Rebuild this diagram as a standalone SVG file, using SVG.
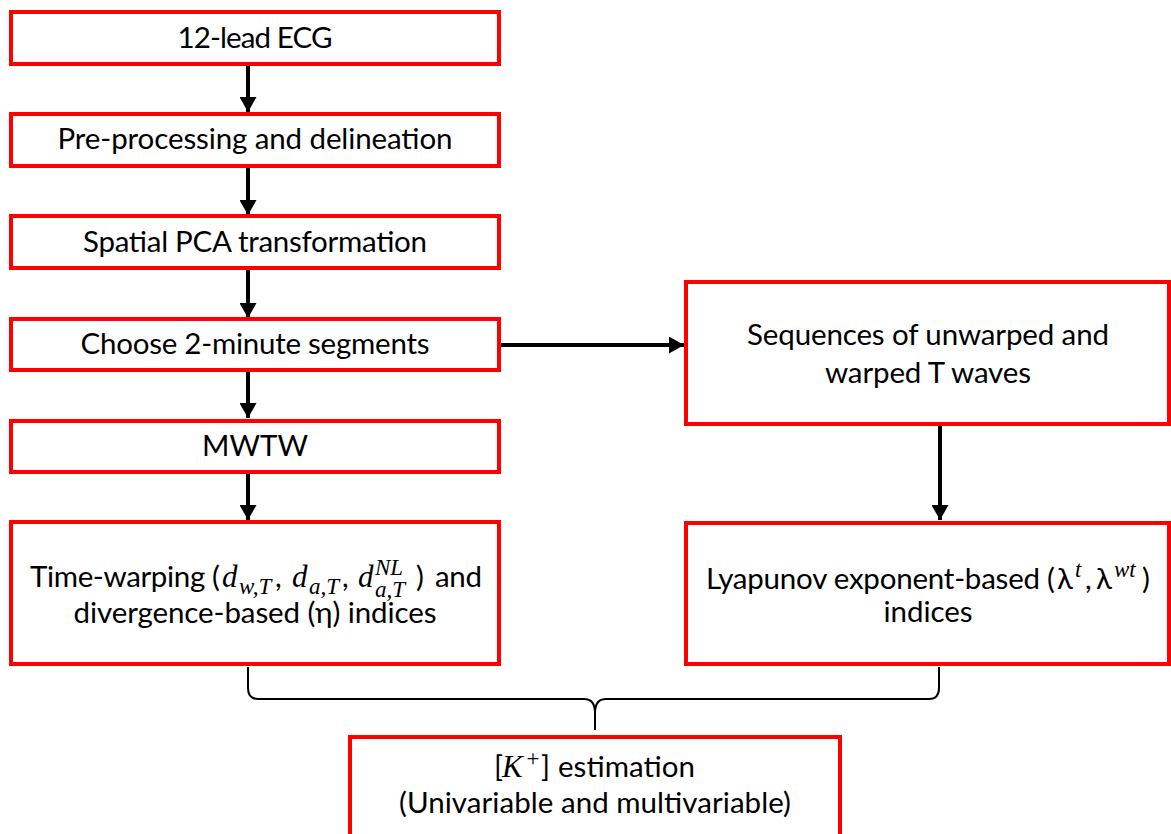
<svg xmlns="http://www.w3.org/2000/svg" width="1171" height="834" viewBox="0 0 1171 834">
<style>
.box{fill:#fff;stroke:#ff0000;stroke-width:4}
.t{font-family:Lato,"Noto Sans",sans-serif;font-size:29.5px;fill:#000}
.c{text-anchor:middle}
.m{font-family:"Liberation Serif","DejaVu Serif",serif;font-style:italic;font-size:31px}
.ms{font-family:"Liberation Serif","DejaVu Serif",serif;font-style:italic;font-size:23px}
.arr{stroke:#000;stroke-width:4;fill:none;marker-end:url(#ah)}
.brace{stroke:#000;stroke-width:2;fill:none}
</style>
<defs>
<marker id="ah" markerUnits="userSpaceOnUse" markerWidth="17" markerHeight="17" refX="15" refY="8.5" orient="auto">
<path d="M0,0 L15,8.5 L0,17 Z" fill="#000"/>
</marker>
</defs>
<rect width="1171" height="834" fill="#fff"/>
<g id="connectors">
<line class="arr" x1="248" y1="66" x2="248" y2="112"/>
<line class="arr" x1="248" y1="168" x2="248" y2="215"/>
<line class="arr" x1="248" y1="270" x2="248" y2="318"/>
<line class="arr" x1="248" y1="372" x2="248" y2="418"/>
<line class="arr" x1="248" y1="474" x2="248" y2="520"/>
<line class="arr" x1="501" y1="345" x2="684" y2="345"/>
<line class="arr" x1="940" y1="426" x2="940" y2="520"/>
<path class="brace" d="M248,667 V688 Q248,699 258,699 H584 Q595,699 595,713 V730 M595,713 Q595,699 606,699 H929 Q939,699 939,688 V667"/>
</g>
<g id="n1"><rect class="box" x="11" y="12" width="488" height="52"/><text class="t c" x="255" y="48" textLength="155">12-lead ECG</text></g>
<g id="n2"><rect class="box" x="11" y="114" width="488" height="52"/><text class="t c" x="255" y="149" textLength="395">Pre-processing and delineation</text></g>
<g id="n3"><rect class="box" x="11" y="216" width="488" height="52"/><text class="t c" x="255" y="252" textLength="344">Spatial PCA transformation</text></g>
<g id="n4"><rect class="box" x="11" y="319" width="488" height="51"/><text class="t c" x="255" y="354" textLength="349">Choose 2-minute segments</text></g>
<g id="n5"><rect class="box" x="11" y="421" width="488" height="51"/><text class="t c" x="255" y="456">MWTW</text></g>
<g id="n6"><rect class="box" x="11" y="522" width="488" height="142"/>
<text class="t" y="587"><tspan x="30" textLength="190">Time-warping (</tspan><tspan class="m" x="222">d</tspan><tspan class="ms" x="239" y="594">w,T</tspan><tspan x="275" y="587">,</tspan><tspan class="m" x="292">d</tspan><tspan class="ms" x="309" y="594">a,T</tspan><tspan x="342" y="587">,</tspan><tspan class="m" x="358">d</tspan><tspan class="ms" x="375" y="575">NL</tspan><tspan class="ms" x="375" y="597">a,T</tspan><tspan x="416" y="587">)</tspan><tspan x="435" textLength="47">and</tspan></text>
<text class="t c" x="255" y="623" textLength="363">divergence-based (η) indices</text>
</g>
<g id="n7"><rect class="box" x="686" y="282" width="483" height="142"/>
<text class="t c" x="928" y="345" textLength="362">Sequences of unwarped and</text>
<text class="t c" x="928" y="383" textLength="206">warped T waves</text>
</g>
<g id="n8"><rect class="box" x="686" y="523" width="483" height="141"/>
<text class="t" y="589"><tspan x="706" textLength="349">Lyapunov exponent-based (</tspan><tspan x="1057">λ</tspan><tspan class="ms" x="1075" y="577">t</tspan><tspan x="1085" y="589">,</tspan><tspan x="1096">λ</tspan><tspan class="ms" x="1114" y="577">wt</tspan><tspan x="1142" y="589">)</tspan></text>
<text class="t c" x="928" y="622" textLength="89">indices</text>
</g>
<g id="n9"><rect class="box" x="350" y="737" width="490" height="130"/>
<text class="t" y="777"><tspan x="494">[</tspan><tspan class="m" x="502">K</tspan><tspan class="ms" x="525" y="766">+</tspan><tspan x="541" y="777">]</tspan><tspan x="558" textLength="137">estimation</tspan></text>
<text class="t c" x="595" y="813" textLength="392">(Univariable and multivariable)</text>
</g>
</svg>
